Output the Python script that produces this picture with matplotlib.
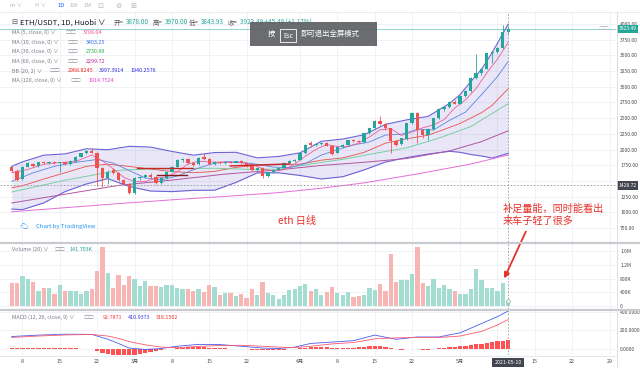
import numpy as np
import matplotlib.pyplot as plt
from matplotlib.patches import Rectangle, FancyArrowPatch
from matplotlib.lines import Line2D

plt.rcParams['font.family'] = ['Noto Sans CJK SC', 'DejaVu Sans']

# velas diarias ETH/USDT, 6 feb - 10 may 2021 (indice 0 = 6 feb)
opens = [1715, 1665, 1530, 1730, 1765, 1740, 1795, 1785, 1805, 1790,
         1795, 1765, 1820, 1890, 1940, 1975, 1950, 1710, 1545, 1675,
         1630, 1520, 1450, 1310, 1545, 1565, 1595, 1565, 1470, 1540,
         1650, 1728, 1834, 1845, 1790, 1765, 1880, 1850, 1771, 1797,
         1781, 1797, 1790, 1815, 1781, 1750, 1675, 1700, 1580, 1640,
         1680, 1710, 1790, 1820, 1840, 1940, 2100, 2070, 2090, 2100,
         2062, 1950, 2045, 2070, 2155, 2140, 2115, 2260, 2339, 2450,
         2408, 2339, 2130, 2085, 2175, 2420, 2590, 2312, 2232, 2330,
         2498, 2650, 2673, 2763, 2730, 2850, 2930, 3140, 3214, 3290,
         3533, 3550, 3620, 3878]
highs = [1740, 1690, 1745, 1800, 1780, 1805, 1815, 1815, 1820, 1805,
         1810, 1830, 1900, 1950, 2000, 2020, 1960, 1730, 1680, 1700,
         1640, 1530, 1470, 1560, 1580, 1610, 1620, 1575, 1560, 1665,
         1740, 1845, 1870, 1860, 1800, 1890, 1940, 1860, 1810, 1815,
         1810, 1815, 1825, 1830, 1790, 1760, 1720, 1720, 1650, 1690,
         1720, 1800, 1830, 1850, 1950, 2095, 2130, 2110, 2125, 2120,
         2075, 2060, 2090, 2160, 2170, 2150, 2270, 2350, 2470, 2535,
         2420, 2350, 2150, 2190, 2430, 2605, 2600, 2330, 2345, 2510,
         2665, 2700, 2775, 2790, 2865, 2950, 3160, 3525, 3300, 3545,
         3560, 3640, 3985, 3970]
lows = [1650, 1505, 1515, 1715, 1725, 1720, 1770, 1775, 1775, 1650,
        1750, 1755, 1810, 1880, 1930, 1940, 1420, 1400, 1450, 1610,
        1500, 1430, 1290, 1295, 1520, 1550, 1555, 1450, 1455, 1530,
        1640, 1720, 1800, 1770, 1740, 1755, 1840, 1760, 1755, 1770,
        1770, 1780, 1780, 1770, 1730, 1665, 1660, 1545, 1570, 1630,
        1670, 1700, 1780, 1810, 1830, 1935, 2040, 2060, 2070, 2050,
        1915, 1940, 2030, 2060, 2120, 2100, 2105, 2250, 2330, 2390,
        2320, 1940, 2050, 2070, 2160, 2410, 2100, 2180, 2150, 2320,
        2490, 2620, 2660, 2720, 2720, 2840, 2920, 3130, 3180, 3280,
        3375, 3540, 3600, 3843.93]
closes = [1665, 1520, 1730, 1785, 1740, 1795, 1785, 1805, 1790, 1795,
          1765, 1820, 1890, 1940, 1970, 1950, 1700, 1545, 1650, 1630,
          1520, 1450, 1305, 1540, 1565, 1590, 1570, 1470, 1540, 1650,
          1728, 1834, 1850, 1780, 1755, 1860, 1850, 1771, 1797, 1781,
          1797, 1790, 1815, 1781, 1750, 1675, 1700, 1580, 1640, 1680,
          1710, 1790, 1820, 1840, 1940, 2080, 2070, 2090, 2110, 2062,
          1930, 2045, 2070, 2150, 2135, 2120, 2260, 2339, 2450, 2408,
          2339, 2130, 2075, 2180, 2420, 2590, 2312, 2232, 2330, 2498,
          2650, 2673, 2763, 2730, 2850, 2935, 3140, 3214, 3290, 3533,
          3550, 3623, 3870, 3923.49]
# volumen en miles
volume_k = [671, 680, 876, 778, 710, 448, 516, 525, 350, 603,
            448, 448, 448, 360, 448, 506, 1022, 1722, 953, 535,
            915, 623, 866, 778, 574, 730, 574, 574, 564, 603,
            623, 525, 506, 506, 438, 506, 409, 603, 555, 311,
            389, 379, 282, 360, 233, 486, 311, 710, 379, 311,
            214, 321, 457, 486, 584, 642, 428, 486, 311, 409,
            555, 389, 311, 409, 263, 282, 331, 525, 457, 642,
            438, 1528, 691, 749, 759, 924, 1722, 671, 593, 788,
            525, 603, 506, 438, 340, 340, 496, 1080, 749, 516,
            525, 428, 662, 141.703]

# medias moviles
ma5_x = [0, 3, 6, 9, 12, 15, 17, 19, 21, 23, 25, 27, 29, 31, 33, 35, 37, 40, 43, 45,
         47, 49, 51, 53, 55, 57, 59, 61, 63, 65, 67, 69, 71, 73, 75, 77, 79, 81, 83, 85,
         87, 89, 91, 92, 93]
ma5_y = [1631, 1684, 1767, 1794, 1812, 1914, 1821, 1695, 1559, 1489, 1490, 1547, 1564, 1644,
         1768, 1816, 1803, 1799, 1793, 1762, 1697, 1655, 1680, 1768, 1894, 2004, 2082, 2047,
         2051, 2104, 2201, 2315, 2333, 2226, 2279, 2347, 2392, 2477, 2663, 2790, 2974, 3222,
         3442, 3573, 3708.04]
ma10_x = [0, 4, 8, 12, 16, 19, 22, 25, 28, 31, 34, 37, 40, 43, 46, 49, 52, 55, 58, 61,
          64, 67, 70, 73, 76, 79, 82, 85, 88, 91, 93]
ma10_y = [1494, 1630, 1734, 1797, 1843, 1786, 1666, 1550, 1518, 1579, 1677, 1762, 1808, 1800,
          1766, 1721, 1713, 1778, 1913, 1999, 2074, 2122, 2232, 2244, 2324, 2311, 2465, 2597,
          2874, 3163, 3403.25]
ma30_x = [0, 10, 20, 26, 32, 38, 44, 50, 56, 62, 68, 74, 80, 86, 93]
ma30_y = [1325, 1512, 1669, 1693, 1699, 1703, 1687, 1687, 1771, 1845, 1940, 2028, 2182, 2367, 2730.88]
ma60_x = [0, 10, 20, 30, 40, 50, 58, 66, 74, 82, 88, 93]
ma60_y = [1150, 1290, 1430, 1515, 1610, 1678, 1748, 1798, 1858, 1979, 2127, 2299.72]
ma120_x = [0, 10, 20, 30, 40, 50, 58, 66, 76, 86, 93]
ma120_y = [1010, 1075, 1140, 1200, 1255, 1315, 1385, 1470, 1613, 1770, 1914.75]

# bandas de Bollinger (20, 2)
bb_x = [0, 2, 6, 10, 14, 18, 22, 26, 30, 34, 38, 42, 46, 50, 54, 58, 62, 66, 70, 74,
        78, 82, 84, 86, 88, 90, 93]
bb_mid = [1393, 1424, 1531, 1632, 1733, 1768, 1732, 1690, 1651, 1631, 1653, 1717, 1749, 1760,
          1768, 1832, 1868, 1956, 2102, 2173, 2229, 2353, 2417, 2502, 2588, 2705, 2968.82]
bb_up = [1733, 1804, 1911, 1932, 2013, 1998, 2052, 2040, 1971, 1911, 1953, 1957, 1869, 1890,
         1948, 2132, 2168, 2236, 2402, 2473, 2529, 2733, 2877, 3082, 3278, 3545, 3997.39]
bb_low = [1053, 1044, 1151, 1332, 1453, 1538, 1412, 1340, 1331, 1351, 1353, 1477, 1629, 1630,
          1588, 1532, 1568, 1676, 1802, 1873, 1929, 1973, 1957, 1922, 1898, 1865, 1940.26]

# MACD (12, 26, 9)
macd_x = [0, 5, 10, 15, 18, 20, 22, 25, 28, 31, 35, 39, 43, 47, 50, 53, 56, 60, 64, 68,
          72, 76, 80, 84, 88, 91, 93]
macd_line = [135, 150, 160, 158, 105, 60, 10, -5, 5, 30, 50, 48, 30, 10, 5, 20, 60, 75, 90,
             150, 105, 130, 130, 175, 275, 350, 410.94]
macd_signal = [125, 140, 152, 157, 140, 115, 80, 45, 20, 15, 28, 38, 40, 30, 20, 15, 30, 55,
               70, 110, 120, 125, 125, 140, 190, 260, 318.15]
macd_hist = [12, 14, 15, 15, 14, 13, 12, 12, 11, 10, 9, 8, 6, 4, 2,
             -4, -20, -38, -50, -60, -68, -72, -70, -62, -52, -42, -32, -22, -12, -5,
             4, 10, 16, 18, 18, 20, 18, 14, 10, 8, 6, 4, 2, -1, -4,
             -8, -12, -14, -14, -12, -10, -6, -1, 4,
             10, 16, 20, 22, 22, 20, 14, 12, 12, 14, 16, 18, 24, 30, 34, 30, 24, 12,
             2, -6, -4, 4, 2, -6, -8, -2,
             8, 14, 18, 22, 28, 34, 42, 50, 58, 66, 74, 82, 88, 92.79]

# lineas rojas dibujadas a mano sobre el grafico
trend_lines = [([23.5, 34], [1702, 1702], '#c62828'),
               ([27.2, 32.9], [1600, 1600], '#8e1b1b'),
               ([40.9, 52.1], [1740, 1772], '#c62828')]

tick_pos = [2, 9, 16, 23, 30, 37, 44, 54, 61, 68, 75, 84, 98, 105, 112]
tick_lab = ['8', '15', '22', '3月', '8', '15', '22', '4月', '8', '15', '22', '5月', '15', '22', '29']
grid_x = tick_pos + [91]

days = np.arange(len(closes))
o = np.array(opens)
c = np.array(closes)
up = c >= o
green, red = '#26a69a', '#ef5350'
cols = np.where(up, green, red)
vcols = np.where(up, '#a3ddd2', '#f7b6b4')

W, H = 640, 368
def fx(x):
    return x / W
def fy(y):
    return 1 - y / H

fig = plt.figure(figsize=(6.4, 3.68), dpi=100)
ax = fig.add_axes([0, fy(242), fx(616), 230 / H])
axv = fig.add_axes([0, fy(309), fx(616), 66 / H])
axm = fig.add_axes([0, fy(355), fx(616), 45 / H])
gridc = '#eef0f4'
for a in (ax, axv, axm):
    a.set_xlim(-2.2, 113.2)
    for s in a.spines.values():
        s.set_visible(False)
    a.set_facecolor('none')
    for gx in grid_x:
        a.axvline(gx, color=gridc, lw=0.6, zorder=0)
    a.tick_params(axis='y', length=0, pad=3, labelsize=3.6, labelcolor='#4a4a4a',
                  left=False, labelleft=False, right=False, labelright=True)
    a.axvline(93, color='#9598a1', lw=0.6, ls=(0, (2, 2)), zorder=6)

# panel principal
ax.set_ylim(528.7, 4191)
pticks = [750, 1000, 1250, 1750, 2000, 2250, 2500, 2750, 3000, 3250, 3500, 3750, 4000]
for p in pticks + [1500]:
    ax.axhline(p, color=gridc, lw=0.6, zorder=0)
ax.set_yticks(pticks, ['%.2f' % p for p in pticks])
ax.set_xticks([])

ax.fill_between(bb_x, bb_low, bb_up, color='#7b6fd0', alpha=0.17, lw=0, zorder=1)
ax.plot(bb_x, bb_up, color='#6c63d6', lw=0.8, zorder=2)
ax.plot(bb_x, bb_low, color='#6c63d6', lw=0.8, zorder=2)
ax.plot(bb_x, bb_mid, color='#e5534b', lw=0.6, zorder=2)
ax.plot(ma120_x, ma120_y, color='#e46fd6', lw=0.7, zorder=2)
ax.plot(ma60_x, ma60_y, color='#b3569f', lw=0.7, zorder=2)
ax.plot(ma30_x, ma30_y, color='#7ccfa0', lw=0.7, zorder=2)
ax.plot(ma10_x, ma10_y, color='#5b86e5', lw=0.6, zorder=2)
ax.plot(ma5_x, ma5_y, color='#ec5f9a', lw=0.6, zorder=2)

ax.vlines(days, lows, highs, colors=cols, lw=0.6, zorder=3)
body = np.maximum(np.abs(c - o), 10)
ax.bar(days, body, bottom=np.minimum(o, c), width=0.62, color=cols, lw=0, zorder=4)

for xs, ys, lc in trend_lines:
    ax.plot(xs, ys, color=lc, lw=1.0, zorder=5)

ax.axhline(3923.49, color='#26a69a', lw=0.5, alpha=0.7, zorder=5)
ax.axhline(1428.72, color='#9598a1', lw=0.6, ls=(0, (2, 2)), zorder=6)
yt = ax.get_yaxis_transform()
ax.text(1.004, 3923.49, '3923.49', transform=yt, ha='left', va='center', fontsize=3.6,
        color='white', bbox=dict(boxstyle='square,pad=0.35', fc='#26a69a', ec='none'), clip_on=False)
ax.text(1.004, 1428.72, '1428.72', transform=yt, ha='left', va='center', fontsize=3.6,
        color='white', bbox=dict(boxstyle='square,pad=0.35', fc='#434651', ec='none'), clip_on=False)

# volumen
axv.set_ylim(-88e3, 1834e3)
vticks = [0, 400e3, 800e3, 1.2e6, 1.6e6]
for v in vticks:
    axv.axhline(v, color=gridc, lw=0.6, zorder=0)
axv.set_yticks(vticks, ['0', '400K', '800K', '1.2M', '1.6M'])
axv.set_xticks([])
axv.bar(days, np.array(volume_k) * 1000, width=0.8, color=vcols, lw=0, zorder=3)
axv.plot([93], [141703], 'o', ms=2.6, mfc='white', mec='#8fb5ad', mew=0.6, zorder=7)

# MACD
axm.set_ylim(-64.9, 421.6)
for v in [0, 200, 400]:
    axm.axhline(v, color=gridc, lw=0.6, zorder=0)
axm.set_yticks([0, 200, 400], ['0.0000', '200.0000', '400.0000'])
axm.bar(days, macd_hist, width=0.8, color='#ff5252', lw=0, zorder=3)
axm.plot(macd_x, macd_line, color='#4a5cf0', lw=0.6, zorder=4)
axm.plot(macd_x, macd_signal, color='#ff5a6e', lw=0.6, zorder=4)
axm.set_xticks(tick_pos, tick_lab)
axm.tick_params(axis='x', length=0, pad=3, labelsize=3.8, labelcolor='#4a4a4a')
axm.text(93, -0.17, '2021-05-10', transform=axm.get_xaxis_transform(), ha='center', va='center',
         fontsize=3.8, color='white', bbox=dict(boxstyle='square,pad=0.4', fc='#434651', ec='none'),
         clip_on=False, zorder=8)

# separadores y bordes
def hline(y, x0=0, x1=640, col='#c9cbd1', lw=1.6):
    fig.add_artist(Line2D([fx(x0), fx(x1)], [fy(y), fy(y)], color=col, lw=lw))
hline(11.5, col='#e6e8ee', lw=0.6)
hline(242.5)
hline(309.5)
hline(355.5, x1=616, col='#e0e3eb', lw=0.6)
fig.add_artist(Line2D([fx(616.5), fx(616.5)], [fy(11.5), fy(368)], color='#d6d9e0', lw=0.6))

def t(x, y, s, col='#787b86', fs=4.0, **kw):
    fig.text(fx(x), fy(y), s, color=col, fontsize=fs, ha='left', va='center', **kw)

# barra superior
t(10, 5.5, 'm ∨', col='#b2b5be', fs=4.2)
t(35, 5.5, 'H ∨', col='#b2b5be', fs=4.2)
t(57, 5.5, '1D', col='#2962ff', fs=4.2)
t(69, 5.5, '1W', col='#b2b5be', fs=4.2)
t(83, 5.5, '1M', col='#b2b5be', fs=4.2)
t(97, 5.5, '⊡', col='#b2b5be', fs=5)
t(115, 5.5, '⚙', col='#b2b5be', fs=5)
t(130, 5.5, '⊞', col='#b2b5be', fs=5)

# leyenda principal
t(11, 22.5, '⊟', col='#555', fs=5.2)
t(20.5, 22.5, 'ETH/USDT, 1D, Huobi ∨', col='#131722', fs=5.5)
for lx, lab, val in [(114, '开=', '3878.00'), (153, '高=', '3970.00'),
                     (189, '低=', '3843.93'), (228, '收=', '3923.49 +45.49 (+1.17%)')]:
    t(lx, 22.5, lab, col='#555', fs=4.6)
    t(lx + 12, 22.5, val, col='#26a69a', fs=4.6)

legend_rows = [(32.3, 'MA (5, close, 0) ∨', 65, [(83, '3708.04', '#f0509a')]),
               (42.3, 'MA (10, close, 0) ∨', 67, [(86, '3403.25', '#2f6fe8')]),
               (51.7, 'MA (30, close, 0) ∨', 67, [(86, '2730.88', '#29b34a')]),
               (61.7, 'MA (60, close, 0) ∨', 67, [(86, '2299.72', '#c2269b')]),
               (71.0, 'BB (20, 2) ∨', 49, [(68, '2968.8245', '#f02020'), (99, '3997.3914', '#2a2ae0'),
                                          (131, '1940.2576', '#2a2ae0')]),
               (80.7, 'MA (120, close, 0) ∨', 70, [(89, '1914.7524', '#e03ed8')])]
for ly, name, ix, vals in legend_rows:
    t(12, ly, name, fs=3.9)
    t(ix, ly, '□□', col='#9598a1', fs=3.9)
    for vx, vs, vc in vals:
        t(vx, ly, vs, col=vc, fs=3.9)

t(598, 29, '□□', col='#b2b5be', fs=3.9)
t(12, 249.3, 'Volume (20) ∨', fs=3.9)
t(54, 249.3, '□□', col='#9598a1', fs=3.9)
t(70, 249.3, '141.703K', col='#26a69a', fs=3.9)
t(12, 317.3, 'MACD (12, 26, close, 9) ∨', fs=3.9)
t(83, 317.3, '□□', col='#9598a1', fs=3.9)
t(103, 317.3, '92.7871', col='#ff3d3d', fs=3.9)
t(128, 317.3, '410.9373', col='#3838e0', fs=3.9)
t(156, 317.3, '318.1502', col='#f03030', fs=3.9)

# marca de agua
t(20, 226.7, '☁', col='#2196f3', fs=6)
t(36, 226.7, 'Chart by TradingView', col='#2196f3', fs=4.3)

# aviso de pantalla completa
fig.add_artist(Rectangle((fx(250), fy(46)), fx(127), 24 / H, transform=fig.transFigure,
                         fc='#5f6164', ec='none', alpha=0.93, zorder=10))
fig.add_artist(Rectangle((fx(280), fy(41.5)), fx(16), 12 / H, transform=fig.transFigure,
                         fc='none', ec='white', lw=0.6, zorder=11))
fig.text(fx(271.5), fy(34), '按', color='white', fontsize=5.3, ha='center', va='center', zorder=12)
fig.text(fx(288), fy(35.5), 'Esc', color='white', fontsize=4.6, ha='center', va='center', zorder=12)
fig.text(fx(300), fy(34), '即可退出全屏模式', color='white', fontsize=5.3, ha='left', va='center', zorder=12)

# anotaciones en rojo
fig.text(fx(278), fy(221), 'eth 日线', color='#e8302a', fontsize=7.3, ha='left', va='center')
fig.text(fx(503), fy(215), '补足量能，同时能看出\n来车子轻了很多', color='#e8302a', fontsize=7.3,
         ha='left', va='center', linespacing=1.3)
fig.add_artist(FancyArrowPatch((fx(527), fy(229)), (fx(503), fy(281)), transform=fig.transFigure,
                               arrowstyle='-|>', mutation_scale=8, color='#e8302a', lw=1.3))

fig.savefig('out.png', dpi=100)
